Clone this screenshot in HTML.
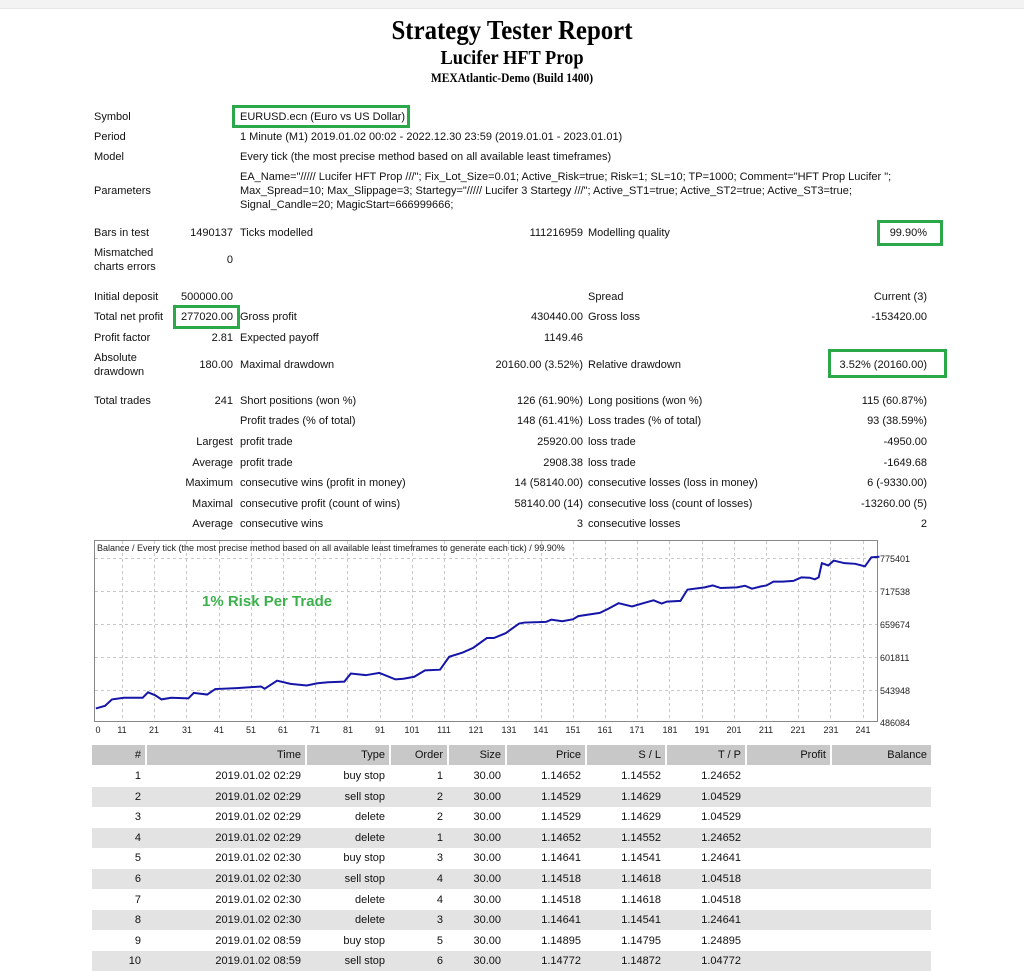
<!DOCTYPE html>
<html><head><meta charset="utf-8"><style>
*{margin:0;padding:0;box-sizing:border-box}
body{width:1024px;height:962px;background:#fff;position:relative;overflow:hidden;font-family:"Liberation Sans",sans-serif;font-size:11px;color:#111}
.t{position:absolute;line-height:14px;white-space:nowrap}
.r{text-align:right}
.h{position:absolute;left:0;width:1024px;text-align:center;font-family:"Liberation Serif",serif;font-weight:bold;color:#000}
.box{position:absolute;border:3px solid #2aa84a}
.row{position:absolute;left:92px;width:839px;height:20px}
.c{position:absolute;top:0;height:20px;line-height:20px;text-align:right;padding-right:4px;white-space:nowrap}
</style></head><body>
<div style="position:absolute;left:0;top:0;width:1024px;height:9px;background:#f3f3f3;border-bottom:1px solid #e6e6e6"></div>
<div class="h" style="top:14px;font-size:27px;line-height:32px;transform:scaleX(0.92)">Strategy Tester Report</div>
<div class="h" style="top:46px;font-size:20px;line-height:24px;transform:scaleX(0.92)">Lucifer HFT Prop</div>
<div class="h" style="top:71px;font-size:12.5px;line-height:15px;transform:scaleX(0.92)">MEXAtlantic-Demo (Build 1400)</div>

<div class="t" style="left:94px;top:110px">Symbol</div>
<div class="t" style="left:240px;top:110px">EURUSD.ecn (Euro vs US Dollar)</div>
<div class="box" style="left:232px;top:105px;width:178px;height:23px"></div>
<div class="t" style="left:94px;top:130px">Period</div>
<div class="t" style="left:240px;top:130px">1 Minute (M1) 2019.01.02 00:02 - 2022.12.30 23:59 (2019.01.01 - 2023.01.01)</div>
<div class="t" style="left:94px;top:150px">Model</div>
<div class="t" style="left:240px;top:150px">Every tick (the most precise method based on all available least timeframes)</div>
<div class="t" style="left:94px;top:184px">Parameters</div>
<div class="t" style="left:240px;top:170px">EA_Name="///// Lucifer HFT Prop ///"; Fix_Lot_Size=0.01; Active_Risk=true; Risk=1; SL=10; TP=1000; Comment="HFT Prop Lucifer ";</div>
<div class="t" style="left:240px;top:184px">Max_Spread=10; Max_Slippage=3; Startegy="///// Lucifer 3 Startegy ///"; Active_ST1=true; Active_ST2=true; Active_ST3=true;</div>
<div class="t" style="left:240px;top:198px">Signal_Candle=20; MagicStart=666999666;</div>

<div class="t" style="left:94px;top:226px">Bars in test</div>
<div class="t r" style="left:150px;width:83px;top:226px">1490137</div>
<div class="t" style="left:240px;top:226px">Ticks modelled</div>
<div class="t r" style="left:400px;width:183px;top:226px">111216959</div>
<div class="t" style="left:588px;top:226px">Modelling quality</div>
<div class="t r" style="left:800px;width:127px;top:226px">99.90%</div>
<div class="box" style="left:877px;top:220px;width:66px;height:26px"></div>
<div class="t" style="left:94px;top:246px">Mismatched</div>
<div class="t" style="left:94px;top:260px">charts errors</div>
<div class="t r" style="left:150px;width:83px;top:253px">0</div>

<div class="t" style="left:94px;top:290px">Initial deposit</div>
<div class="t r" style="left:150px;width:83px;top:290px">500000.00</div>
<div class="t" style="left:588px;top:290px">Spread</div>
<div class="t r" style="left:800px;width:127px;top:290px">Current (3)</div>
<div class="t" style="left:94px;top:310px">Total net profit</div>
<div class="t r" style="left:150px;width:83px;top:310px">277020.00</div>
<div class="box" style="left:173px;top:305px;width:67px;height:24px"></div>
<div class="t" style="left:240px;top:310px">Gross profit</div>
<div class="t r" style="left:400px;width:183px;top:310px">430440.00</div>
<div class="t" style="left:588px;top:310px">Gross loss</div>
<div class="t r" style="left:800px;width:127px;top:310px">-153420.00</div>
<div class="t" style="left:94px;top:331px">Profit factor</div>
<div class="t r" style="left:150px;width:83px;top:331px">2.81</div>
<div class="t" style="left:240px;top:331px">Expected payoff</div>
<div class="t r" style="left:400px;width:183px;top:331px">1149.46</div>
<div class="t" style="left:94px;top:351px">Absolute</div>
<div class="t" style="left:94px;top:365px">drawdown</div>
<div class="t r" style="left:150px;width:83px;top:358px">180.00</div>
<div class="t" style="left:240px;top:358px">Maximal drawdown</div>
<div class="t r" style="left:400px;width:183px;top:358px">20160.00 (3.52%)</div>
<div class="t" style="left:588px;top:358px">Relative drawdown</div>
<div class="t r" style="left:800px;width:127px;top:358px">3.52% (20160.00)</div>
<div class="box" style="left:828px;top:349px;width:119px;height:29px"></div>

<div class="t" style="left:94px;top:394px">Total trades</div>
<div class="t r" style="left:150px;width:83px;top:394px">241</div>
<div class="t" style="left:240px;top:394px">Short positions (won %)</div>
<div class="t r" style="left:400px;width:183px;top:394px">126 (61.90%)</div>
<div class="t" style="left:588px;top:394px">Long positions (won %)</div>
<div class="t r" style="left:800px;width:127px;top:394px">115 (60.87%)</div>
<div class="t" style="left:240px;top:414px">Profit trades (% of total)</div>
<div class="t r" style="left:400px;width:183px;top:414px">148 (61.41%)</div>
<div class="t" style="left:588px;top:414px">Loss trades (% of total)</div>
<div class="t r" style="left:800px;width:127px;top:414px">93 (38.59%)</div>
<div class="t r" style="left:130px;width:103px;top:435px">Largest</div>
<div class="t" style="left:240px;top:435px">profit trade</div>
<div class="t r" style="left:400px;width:183px;top:435px">25920.00</div>
<div class="t" style="left:588px;top:435px">loss trade</div>
<div class="t r" style="left:800px;width:127px;top:435px">-4950.00</div>
<div class="t r" style="left:130px;width:103px;top:456px">Average</div>
<div class="t" style="left:240px;top:456px">profit trade</div>
<div class="t r" style="left:400px;width:183px;top:456px">2908.38</div>
<div class="t" style="left:588px;top:456px">loss trade</div>
<div class="t r" style="left:800px;width:127px;top:456px">-1649.68</div>
<div class="t r" style="left:130px;width:103px;top:476px">Maximum</div>
<div class="t" style="left:240px;top:476px">consecutive wins (profit in money)</div>
<div class="t r" style="left:400px;width:183px;top:476px">14 (58140.00)</div>
<div class="t" style="left:588px;top:476px">consecutive losses (loss in money)</div>
<div class="t r" style="left:800px;width:127px;top:476px">6 (-9330.00)</div>
<div class="t r" style="left:130px;width:103px;top:497px">Maximal</div>
<div class="t" style="left:240px;top:497px">consecutive profit (count of wins)</div>
<div class="t r" style="left:400px;width:183px;top:497px">58140.00 (14)</div>
<div class="t" style="left:588px;top:497px">consecutive loss (count of losses)</div>
<div class="t r" style="left:800px;width:127px;top:497px">-13260.00 (5)</div>
<div class="t r" style="left:130px;width:103px;top:517px">Average</div>
<div class="t" style="left:240px;top:517px">consecutive wins</div>
<div class="t r" style="left:400px;width:183px;top:517px">3</div>
<div class="t" style="left:588px;top:517px">consecutive losses</div>
<div class="t r" style="left:800px;width:127px;top:517px">2</div>

<svg style="position:absolute;left:0;top:0" width="1024" height="962">
<g stroke="#c8c8c8" stroke-width="1" stroke-dasharray="3,3">
<line x1="95" x2="877" y1="558.5" y2="558.5"/><line x1="95" x2="877" y1="591.5" y2="591.5"/><line x1="95" x2="877" y1="624.5" y2="624.5"/><line x1="95" x2="877" y1="657.5" y2="657.5"/><line x1="95" x2="877" y1="690.5" y2="690.5"/>
<line x1="122.5" x2="122.5" y1="541" y2="721"/><line x1="154.5" x2="154.5" y1="541" y2="721"/><line x1="186.5" x2="186.5" y1="541" y2="721"/><line x1="219.5" x2="219.5" y1="541" y2="721"/><line x1="251.5" x2="251.5" y1="541" y2="721"/><line x1="283.5" x2="283.5" y1="541" y2="721"/><line x1="315.5" x2="315.5" y1="541" y2="721"/><line x1="347.5" x2="347.5" y1="541" y2="721"/><line x1="380.5" x2="380.5" y1="541" y2="721"/><line x1="412.5" x2="412.5" y1="541" y2="721"/><line x1="444.5" x2="444.5" y1="541" y2="721"/><line x1="476.5" x2="476.5" y1="541" y2="721"/><line x1="508.5" x2="508.5" y1="541" y2="721"/><line x1="541.5" x2="541.5" y1="541" y2="721"/><line x1="573.5" x2="573.5" y1="541" y2="721"/><line x1="605.5" x2="605.5" y1="541" y2="721"/><line x1="637.5" x2="637.5" y1="541" y2="721"/><line x1="669.5" x2="669.5" y1="541" y2="721"/><line x1="702.5" x2="702.5" y1="541" y2="721"/><line x1="734.5" x2="734.5" y1="541" y2="721"/><line x1="766.5" x2="766.5" y1="541" y2="721"/><line x1="798.5" x2="798.5" y1="541" y2="721"/><line x1="830.5" x2="830.5" y1="541" y2="721"/><line x1="863.5" x2="863.5" y1="541" y2="721"/>
</g>
<rect x="94.5" y="540.5" width="783" height="181" fill="none" stroke="#888" stroke-width="1"/>
<g fill="#222" font-size="9" font-family="Liberation Sans, sans-serif">
<text x="97" y="551">Balance / Every tick (the most precise method based on all available least timeframes to generate each tick) / 99.90%</text>
<text x="880" y="562">775401</text><text x="880" y="595">717538</text><text x="880" y="628">659674</text><text x="880" y="661">601811</text><text x="880" y="694">543948</text><text x="880" y="726">486084</text>
<g text-anchor="middle">
<text x="98" y="733">0</text><text x="122" y="733">11</text><text x="154" y="733">21</text><text x="187" y="733">31</text><text x="219" y="733">41</text><text x="251" y="733">51</text><text x="283" y="733">61</text><text x="315" y="733">71</text><text x="348" y="733">81</text><text x="380" y="733">91</text><text x="412" y="733">101</text><text x="444" y="733">111</text><text x="476" y="733">121</text><text x="509" y="733">131</text><text x="541" y="733">141</text><text x="573" y="733">151</text><text x="605" y="733">161</text><text x="637" y="733">171</text><text x="670" y="733">181</text><text x="702" y="733">191</text><text x="734" y="733">201</text><text x="766" y="733">211</text><text x="798" y="733">221</text><text x="831" y="733">231</text><text x="863" y="733">241</text>
</g></g>
<text x="202" y="606" font-size="15" font-weight="bold" fill="#3cb04c" font-family="Liberation Sans, sans-serif">1% Risk Per Trade</text>
<g transform="matrix(0.5378 0 0 0.3228 91.55 534.76)">
<polyline fill="none" stroke="#1515a8" stroke-width="2" vector-effect="non-scaling-stroke" points="8,538 25,530 38,510 60,505 95,505 105,488 118,497 130,510 148,505 180,507 190,490 215,495 230,478 270,475 315,470 322,477 345,452 370,462 400,467 420,460 440,457 470,455 482,430 510,435 535,428 565,448 580,446 600,440 620,420 648,418 665,378 690,365 710,350 735,320 748,320 770,305 795,275 805,272 845,270 855,263 875,268 895,262 905,252 945,242 960,230 980,212 1005,222 1030,210 1045,203 1060,213 1070,207 1095,205 1108,170 1140,163 1155,157 1170,165 1200,163 1215,158 1228,167 1245,160 1255,157 1268,145 1285,145 1305,143 1320,132 1335,133 1345,138 1352,132 1358,88 1370,95 1380,80 1400,88 1420,90 1438,98 1450,70 1465,68"/>
</g>
</svg>

<div class="row" style="top:745px;background:#fff">
<div class="c" style="left:0;width:53px;background:#c8c8c8">#</div>
<div class="c" style="left:55px;width:158px;background:#c8c8c8">Time</div>
<div class="c" style="left:215px;width:82px;background:#c8c8c8">Type</div>
<div class="c" style="left:299px;width:56px;background:#c8c8c8">Order</div>
<div class="c" style="left:357px;width:56px;background:#c8c8c8">Size</div>
<div class="c" style="left:415px;width:78px;background:#c8c8c8">Price</div>
<div class="c" style="left:495px;width:78px;background:#c8c8c8">S / L</div>
<div class="c" style="left:575px;width:78px;background:#c8c8c8">T / P</div>
<div class="c" style="left:655px;width:83px;background:#c8c8c8">Profit</div>
<div class="c" style="left:740px;width:99px;background:#c8c8c8">Balance</div>
</div>
<div id="rows"></div>
<script>
var d=[["1","2019.01.02 02:29","buy stop","1","1.14652","1.14552","1.24652"],
["2","2019.01.02 02:29","sell stop","2","1.14529","1.14629","1.04529"],
["3","2019.01.02 02:29","delete","2","1.14529","1.14629","1.04529"],
["4","2019.01.02 02:29","delete","1","1.14652","1.14552","1.24652"],
["5","2019.01.02 02:30","buy stop","3","1.14641","1.14541","1.24641"],
["6","2019.01.02 02:30","sell stop","4","1.14518","1.14618","1.04518"],
["7","2019.01.02 02:30","delete","4","1.14518","1.14618","1.04518"],
["8","2019.01.02 02:30","delete","3","1.14641","1.14541","1.24641"],
["9","2019.01.02 08:59","buy stop","5","1.14895","1.14795","1.24895"],
["10","2019.01.02 08:59","sell stop","6","1.14772","1.14872","1.04772"]];
var h="";
d.forEach(function(r,i){
var top=766+i*20.6;var bg=i%2?"#e3e3e3":"#fff";
h+='<div class="row" style="top:'+top+'px;background:'+bg+'">'+
'<div class="c" style="left:0;width:53px">'+r[0]+'</div>'+
'<div class="c" style="left:55px;width:158px">'+r[1]+'</div>'+
'<div class="c" style="left:215px;width:82px">'+r[2]+'</div>'+
'<div class="c" style="left:299px;width:56px">'+r[3]+'</div>'+
'<div class="c" style="left:357px;width:56px">30.00</div>'+
'<div class="c" style="left:415px;width:78px">'+r[4]+'</div>'+
'<div class="c" style="left:495px;width:78px">'+r[5]+'</div>'+
'<div class="c" style="left:575px;width:78px">'+r[6]+'</div></div>';});
document.getElementById("rows").innerHTML=h;
</script>
</body></html>
